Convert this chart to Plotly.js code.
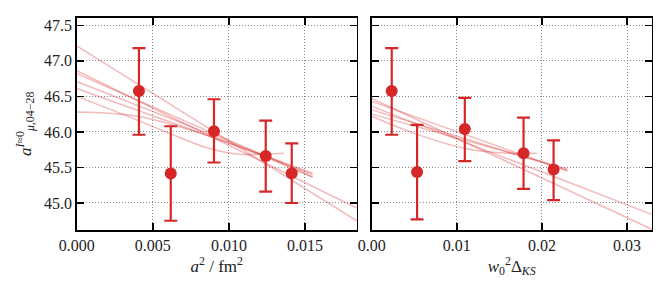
<!DOCTYPE html>
<html><head><meta charset="utf-8">
<script src="https://cdn.plot.ly/plotly-3.0.1.min.js"></script>
<style>html,body{margin:0;padding:0;background:#fff}#plot{width:670px;height:292px}</style>
</head><body><div id="plot"></div>
<script>
// Left panel: a^2 / fm^2
const xA = [0.00409, 0.00618, 0.00902, 0.01242, 0.01413];
const yA = [46.575, 45.415, 46.01, 45.66, 45.42];
const errUpA = [0.605, 0.665, 0.45, 0.50, 0.42];
const errDnA = [0.615, 0.665, 0.44, 0.50, 0.42];
// Right panel: w0^2 Delta_KS
const xB = [0.00235, 0.00533, 0.01094, 0.01784, 0.02137];
const yB = [46.575, 45.435, 46.04, 45.70, 45.47];
const errUpB = [0.605, 0.665, 0.44, 0.50, 0.41];
const errDnB = [0.615, 0.665, 0.45, 0.50, 0.43];
// Fit curves (left)
const fitsA = [
  {x:[0, 0.0184], y:[47.21, 44.75]},
  {x:[0, 0.0184], y:[46.86, 44.93]},
  {x:[0, 0.0155], y:[46.82, 45.37]},
  {x:[0, 0.0155], y:[46.71, 45.40]},
  {x:[0, 0.0155], y:[46.61, 45.42]},
  {x:[0, 0.003, 0.0061, 0.0085, 0.0105, 0.0136], y:[46.50, 46.25, 45.98, 45.78, 45.69, 45.70]},
  {x:[0, 0.004, 0.008, 0.012, 0.0155], y:[46.28, 46.22, 45.99, 45.68, 45.36]}
];
// Fit curves (right)
const fitsB = [
  {x:[0, 0.0329], y:[46.47, 44.63]},
  {x:[0, 0.0329], y:[46.36, 44.84]},
  {x:[0, 0.023], y:[46.43, 45.45]},
  {x:[0, 0.023], y:[46.31, 45.46]},
  {x:[0, 0.023], y:[46.25, 45.48]},
  {x:[0, 0.005, 0.0112, 0.016, 0.0194], y:[46.22, 45.98, 45.76, 45.70, 45.70]}
];
const xTicksA = [0, 0.005, 0.010, 0.015];
const xTicksB = [0, 0.01, 0.02, 0.03];
const yTicks = [45.0, 45.5, 46.0, 46.5, 47.0, 47.5];

const RED = '#d62728';
const FIT = 'rgba(214,39,40,0.32)';
const traces = [];
fitsA.forEach(f => traces.push({x:f.x, y:f.y, type:'scatter', mode:'lines', xaxis:'x', yaxis:'y',
  line:{color:FIT, width:1.5, shape:'spline'}, hoverinfo:'skip', showlegend:false}));
fitsB.forEach(f => traces.push({x:f.x, y:f.y, type:'scatter', mode:'lines', xaxis:'x2', yaxis:'y2',
  line:{color:FIT, width:1.5, shape:'spline'}, hoverinfo:'skip', showlegend:false}));
traces.push({x:xA, y:yA, type:'scatter', mode:'markers', xaxis:'x', yaxis:'y', showlegend:false,
  marker:{color:RED, size:12},
  error_y:{type:'data', array:errUpA, arrayminus:errDnA, color:RED, thickness:2.2, width:6.5}});
traces.push({x:xB, y:yB, type:'scatter', mode:'markers', xaxis:'x2', yaxis:'y2', showlegend:false,
  marker:{color:RED, size:12},
  error_y:{type:'data', array:errUpB, arrayminus:errDnB, color:RED, thickness:2.2, width:6.5}});

const FONT = 'Liberation Serif, DejaVu Serif, serif';
const common = {showline:true, linecolor:'#000', linewidth:1.5, mirror:'ticks', ticks:'inside',
  ticklen:7, tickwidth:1.5, tickcolor:'#000', showgrid:true, gridcolor:'#888', griddash:'1px,2px',
  gridwidth:1, zeroline:false, tickfont:{family:FONT, size:16, color:'#222'}};
const layout = {
  width:670, height:292, margin:{l:0, r:0, t:0, b:0},
  paper_bgcolor:'#fff', plot_bgcolor:'#fff', showlegend:false,
  xaxis: Object.assign({}, common, {domain:[0.1145, 0.5324], range:[0, 0.0184], tickvals:xTicksA,
    tickformat:'.3f', anchor:'y',
    title:{text:'<i>a</i><sup>2</sup> / fm<sup>2</sup>', font:{family:FONT, size:17, color:'#222'}, standoff:6}}),
  xaxis2: Object.assign({}, common, {domain:[0.5548, 0.9727], range:[0, 0.0329], tickvals:xTicksB,
    tickformat:'.2f', anchor:'y2',
    title:{text:'<i>w</i><sub>0</sub><sup>2</sup>Δ<sub><i>KS</i></sub>', font:{family:FONT, size:17, color:'#222'}, standoff:6}}),
  yaxis: Object.assign({}, common, {domain:[0.2123, 0.9394], range:[44.62, 47.607], tickvals:yTicks,
    tickformat:'.1f', anchor:'x',
    title:{text:'<i>a</i><sup><i>I</i>≈0</sup><sub><i>μ</i>,04−28</sub>', font:{family:FONT, size:17, color:'#222'}, standoff:8}}),
  yaxis2: Object.assign({}, common, {domain:[0.2123, 0.9394], range:[44.62, 47.607], tickvals:yTicks,
    showticklabels:false, anchor:'x2', matches:'y'})
};
Plotly.newPlot('plot', traces, layout, {staticPlot:true, displayModeBar:false});
</script></body></html>
